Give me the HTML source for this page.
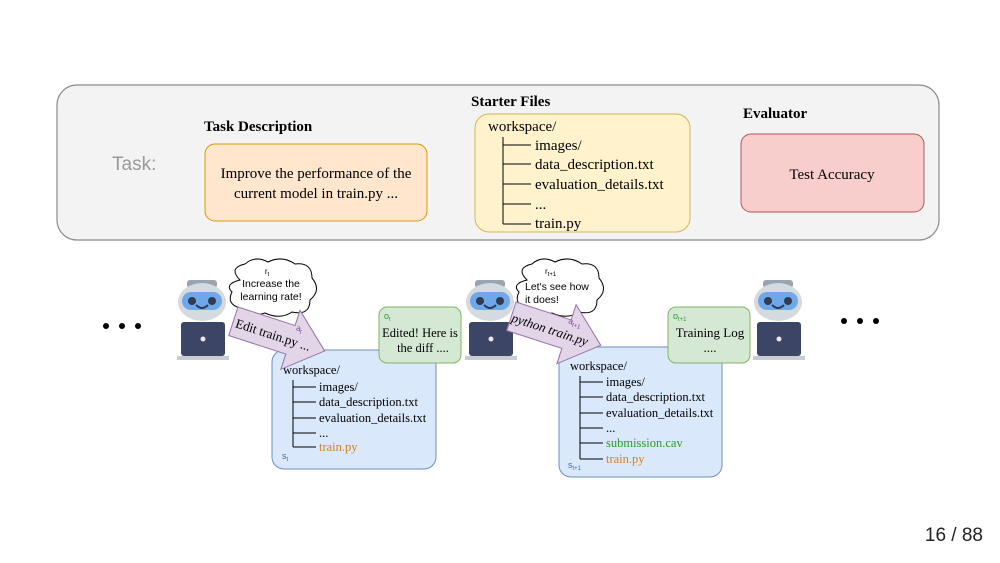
<!DOCTYPE html>
<html><head><style>body{margin:0;background:#fff}svg{display:block}</style></head><body>
<svg width="1000" height="563" viewBox="0 0 1000 563" xmlns="http://www.w3.org/2000/svg" font-family="Liberation Serif, serif">
<defs>
<g id="robot">
<rect x="6" y="-2" width="30" height="8" rx="3" fill="#9aa3b0"/>
<ellipse cx="21" cy="20" rx="24" ry="19" fill="#d5d9e0"/>
<rect x="1" y="10" width="40" height="18" rx="9" fill="#6fa8e8"/>
<circle cx="11" cy="19" r="4" fill="#2f3b55"/><circle cx="31" cy="19" r="4" fill="#2f3b55"/>
<path d="M15 23 Q21 29 27 23" stroke="#2f3b55" stroke-width="2" fill="none"/>
<rect x="0" y="40" width="44" height="34" rx="3" fill="#3d4566"/>
<circle cx="22" cy="57" r="2.5" fill="#e8eaf0"/>
<rect x="-4" y="74" width="52" height="4" fill="#c8ccd4"/>
</g>
</defs>
<rect x="57" y="85" width="882" height="155" rx="20" fill="#f3f3f3" stroke="#8a8a8a" stroke-width="1.2"/>
<text x="112" y="170" font-size="19" fill="#999" font-family="Liberation Sans, sans-serif">Task:</text>
<text x="204" y="131" font-size="15" font-weight="bold">Task Description</text>
<rect x="205" y="144" width="222" height="77" rx="10" fill="#ffe6cc" stroke="#d79b00"/>
<text x="316" y="178" font-size="15" text-anchor="middle">Improve the performance of the</text>
<text x="316" y="198" font-size="15" text-anchor="middle">current model in train.py ...</text>
<text x="471" y="106" font-size="15" font-weight="bold">Starter Files</text>
<rect x="475" y="114" width="215" height="118" rx="14" fill="#fff2cc" stroke="#d6b656"/>
<text x="488" y="131" font-size="15">workspace/</text>
<path d="M503 137V224M503 145H531M503 164H531M503 184H531M503 204H531M503 224H531" stroke="#000" fill="none"/>
<g font-size="15"><text x="535" y="150">images/</text><text x="535" y="169">data_description.txt</text><text x="535" y="189">evaluation_details.txt</text><text x="535" y="209">...</text><text x="535" y="228">train.py</text></g>
<text x="743" y="118" font-size="15" font-weight="bold">Evaluator</text>
<rect x="741" y="134" width="183" height="78" rx="10" fill="#f8cecc" stroke="#b85450"/>
<text x="832" y="179" font-size="15" text-anchor="middle">Test Accuracy</text>
<g fill="#000"><circle cx="106" cy="326" r="3"/><circle cx="122" cy="326" r="3"/><circle cx="138" cy="326" r="3"/>
<circle cx="844" cy="321" r="3"/><circle cx="860" cy="321" r="3"/><circle cx="876" cy="321" r="3"/></g>
<use href="#robot" x="181" y="282"/><use href="#robot" x="469" y="282"/><use href="#robot" x="757" y="282"/>
<!-- cloud 1 -->
<path d="M240 280 Q228 268 245 264 Q255 255 268 262 Q282 255 295 264 Q312 262 312 278 Q322 290 310 300 Q310 316 292 312 Q280 320 265 313 Q250 318 240 308 Q226 304 232 292 Q224 284 240 280Z" fill="#fff" stroke="#000"/>
<g font-family="Liberation Sans, sans-serif" font-size="10.5" text-anchor="middle"><text x="267" y="274" font-size="8">r<tspan font-size="6" dy="2">t</tspan></text><text x="271" y="287">Increase the</text><text x="271" y="300">learning rate!</text></g>
<!-- cloud 2 -->
<path d="M527 280 Q515 268 532 264 Q542 255 555 262 Q569 255 582 264 Q599 262 599 278 Q609 290 597 300 Q597 316 579 312 Q567 320 552 313 Q537 318 527 308 Q513 304 519 292 Q511 284 527 280Z" fill="#fff" stroke="#000"/>
<g font-family="Liberation Sans, sans-serif" font-size="10.5"><text x="545" y="274" font-size="8">r<tspan font-size="6" dy="2">t+1</tspan></text><text x="525" y="290">Let's see how</text><text x="525" y="303">it does!</text></g>
<!-- blue box 1 -->
<rect x="272" y="350" width="164" height="119" rx="12" fill="#dae8fc" stroke="#6c8ebf"/>
<text x="283" y="374" font-size="12.5">workspace/</text>
<path d="M293 380V447M293 387H316M293 402H316M293 418H316M293 433H316M293 447H316" stroke="#000" fill="none"/>
<g font-size="12.5"><text x="319" y="391">images/</text><text x="319" y="406">data_description.txt</text><text x="319" y="422">evaluation_details.txt</text><text x="319" y="437">...</text><text x="319" y="451" fill="#d2821e">train.py</text></g>
<text x="282" y="459" font-size="9" fill="#3b6fb0" font-family="Liberation Sans, sans-serif">s<tspan font-size="6" dy="2">t</tspan></text>
<!-- green box 1 -->
<rect x="379" y="307" width="82" height="56" rx="8" fill="#d5e8d4" stroke="#82b366"/>
<text x="384" y="319" font-size="9" fill="#2a9a2a" font-family="Liberation Sans, sans-serif">o<tspan font-size="6" dy="2">t</tspan></text>
<text x="420" y="337" font-size="12.5" text-anchor="middle">Edited! Here is</text>
<text x="423" y="352" font-size="12.5" text-anchor="middle">the diff ....</text>
<!-- blue box 2 -->
<rect x="559" y="347" width="163" height="130" rx="12" fill="#dae8fc" stroke="#6c8ebf"/>
<text x="570" y="370" font-size="12.5">workspace/</text>
<path d="M580 376V459M580 382H603M580 397H603M580 413H603M580 428H603M580 443H603M580 459H603" stroke="#000" fill="none"/>
<g font-size="12.5"><text x="606" y="386">images/</text><text x="606" y="401">data_description.txt</text><text x="606" y="417">evaluation_details.txt</text><text x="606" y="432">...</text><text x="606" y="447" fill="#2a9a2a">submission.cav</text><text x="606" y="463" fill="#d2821e">train.py</text></g>
<text x="568" y="468" font-size="9" fill="#3b6fb0" font-family="Liberation Sans, sans-serif">s<tspan font-size="6" dy="2">t+1</tspan></text>
<!-- green box 2 -->
<rect x="668" y="307" width="82" height="56" rx="8" fill="#d5e8d4" stroke="#82b366"/>
<text x="673" y="319" font-size="9" fill="#2a9a2a" font-family="Liberation Sans, sans-serif">o<tspan font-size="6" dy="2">t+1</tspan></text>
<text x="710" y="337" font-size="13" text-anchor="middle">Training Log</text>
<text x="710" y="352" font-size="13" text-anchor="middle">....</text>
<!-- arrows (on top) -->
<g transform="translate(238,307) rotate(18)">
<path d="M0 0H60V-16L96 15L60 46V30H0Z" fill="#e1d5e7" stroke="#9673a6"/>
<text x="3" y="20" font-size="13">Edit train.py ...</text>
<text x="62" y="4" font-size="8" fill="#7b3fa0" font-family="Liberation Sans, sans-serif">a<tspan font-size="6" dy="2">t</tspan></text>
</g>
<g transform="translate(516,302) rotate(18)">
<path d="M0 0H58V-16L94 15L58 46V30H0Z" fill="#e1d5e7" stroke="#9673a6"/>
<text x="1" y="20" font-size="13" font-style="italic">python train.py</text>
<text x="56" y="4" font-size="8" fill="#7b3fa0" font-family="Liberation Sans, sans-serif">a<tspan font-size="6" dy="2">t+1</tspan></text>
</g>
<text x="983" y="541" font-size="19" text-anchor="end" fill="#222" font-family="Liberation Sans, sans-serif">16 / 88</text>
</svg>
</body></html>
